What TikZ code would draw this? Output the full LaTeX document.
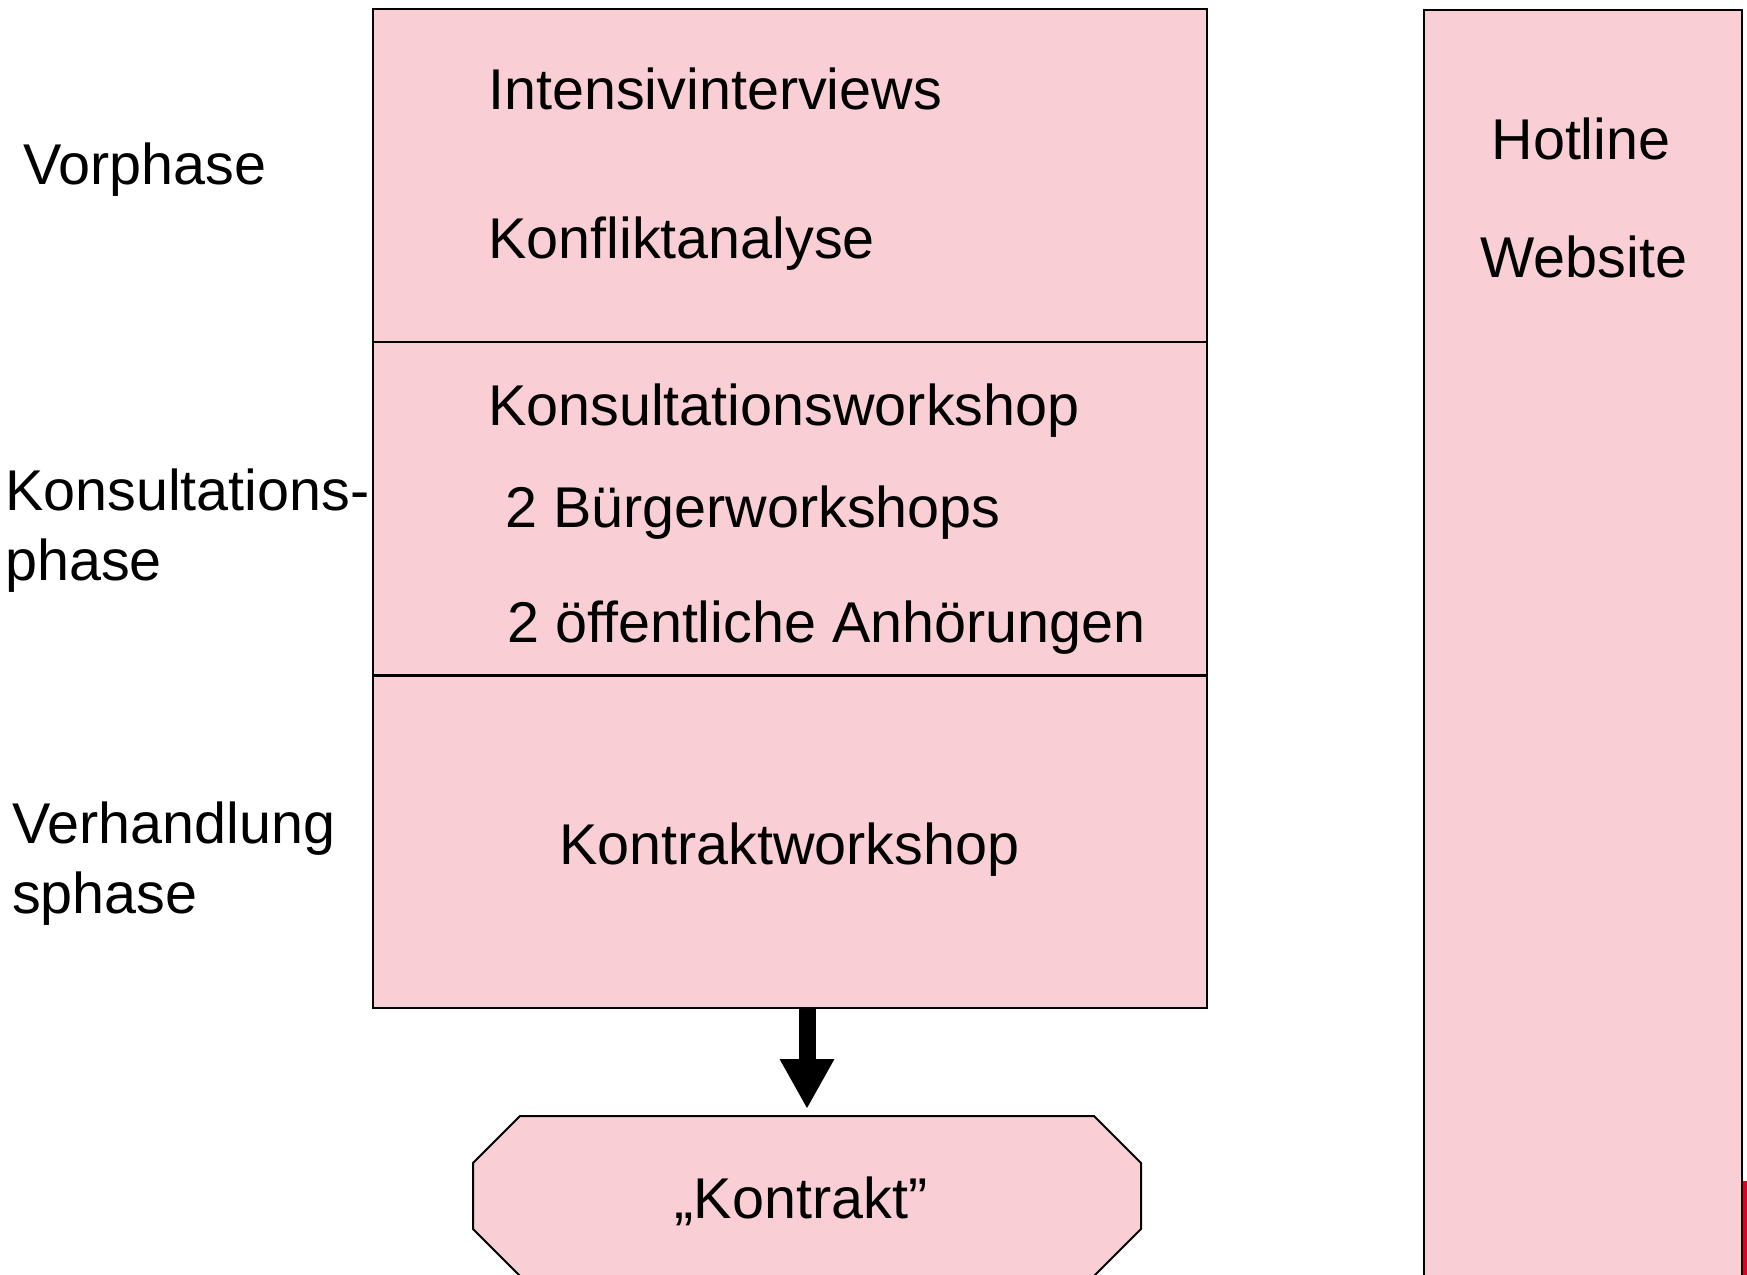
\documentclass[tikz,border=0pt]{standalone}
\usepackage{fontspec}
\setmainfont{Liberation Sans}
\usetikzlibrary{arrows.meta}
\definecolor{phasepink}{RGB}{249,207,213}
\definecolor{logored}{RGB}{226,0,40}

\begin{document}
\begin{tikzpicture}[x=1pt,y=-1pt,
  phase/.style={draw,fill=phasepink,line width=1.5pt,minimum width=834pt,minimum height=333pt,inner sep=0pt},
  lbl/.style={anchor=base west,inner sep=0pt,font=\fontsize{57.5}{70}\selectfont}]
\useasboundingbox (0,0) rectangle (1747,1274);

% phases
\node[phase] (vor) at (790,175.5) {};
\node[phase] (kons) at (790,508.5) {};
\node[phase] (verh) at (790,841.5) {};
\draw[line width=3pt] (kons.south west) -- (kons.south east);

% side column
\node[draw,fill=phasepink,line width=1.5pt,minimum width=318pt,minimum height=1300pt,anchor=north west] (info) at (1423,9) {};
\fill[logored] (1742.5,1181) rectangle (1750,1280);

% result
\draw[fill=phasepink,line width=2pt] (520,1116) -- (1094,1116) -- (1141,1163) -- (1141,1229)
  -- (1094,1276) -- (520,1276) -- (473,1229) -- (473,1163) -- cycle;
\coordinate (ktop) at (807,1116);
\node[lbl,anchor=base] (kontrakt) at (801,1218) {„Kontrakt”};
\draw[line width=17pt,-{Triangle[width=51pt,length=50pt]}] (verh.south -| ktop) -- ([yshift=7pt]ktop);

% phase names
\node[lbl] (vorname) at (23,184) {Vorphase};
\node[lbl] (konsname) at (5,510) {Konsultations-};
\node[lbl] (konsname2) at (5,580) {phase};
\node[lbl] (verhname) at (12,843) {Verhandlung};
\node[lbl] (verhname2) at (12,913) {sphase};

% steps
\node[lbl] (interviews) at (488,109) {Intensivinterviews};
\node[lbl] (analyse) at (488,258) {Konfliktanalyse};
\node[lbl] (kworkshop) at (488,425) {Konsultationsworkshop};
\node[lbl] (bworkshops) at (505,527) {2 Bürgerworkshops};
\node[lbl] (anhoerungen) at (507,642) {2 öffentliche Anhörungen};
\node[lbl] (vworkshop) at (559,864) {Kontraktworkshop};
\node[lbl,anchor=base] (hotline) at (1581,159) {Hotline};
\node[lbl,anchor=base] (website) at (1584,277) {Website};
\end{tikzpicture}
\end{document}
